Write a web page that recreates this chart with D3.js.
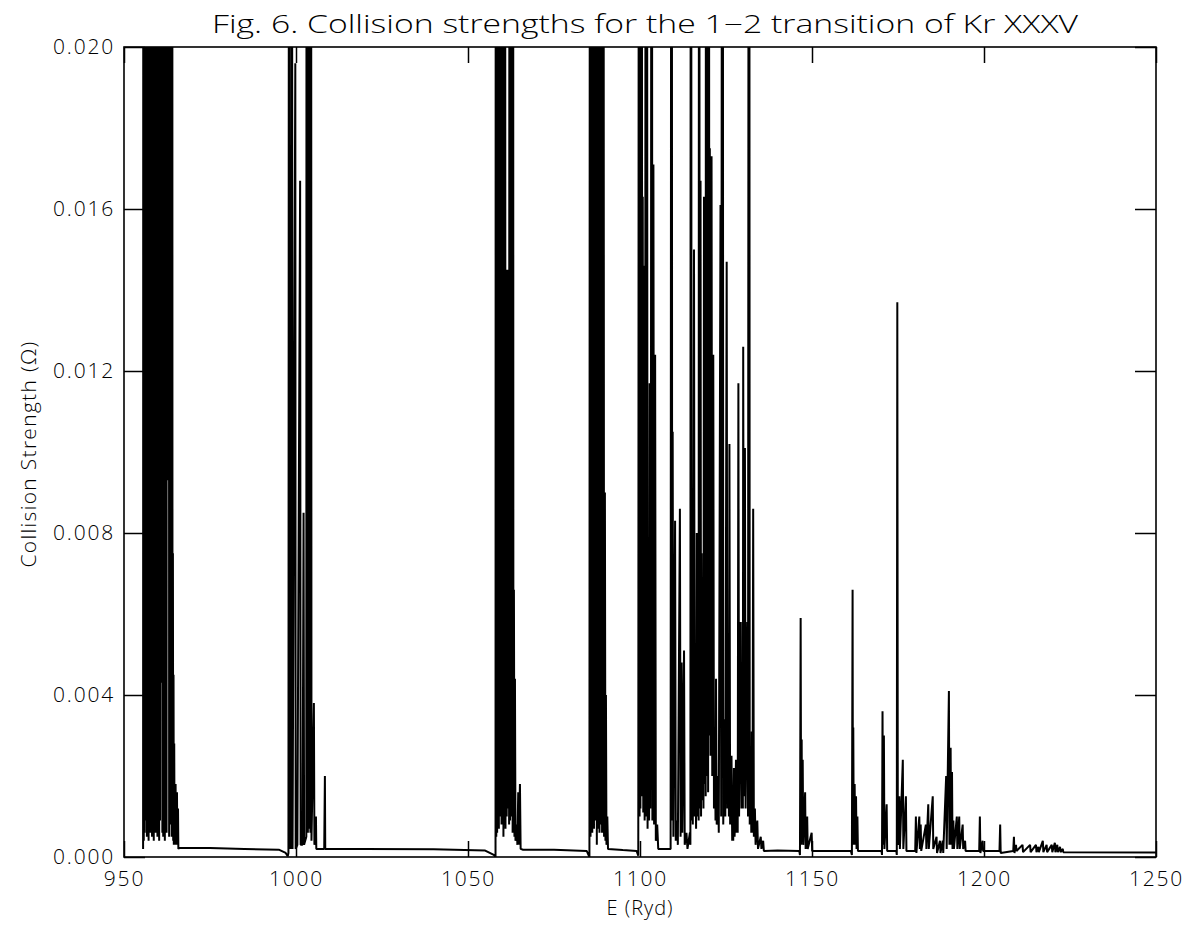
<!DOCTYPE html>
<html><head><meta charset="utf-8">
<script src="https://cdn.jsdelivr.net/npm/d3@7"></script>
<style>
html,body{margin:0;padding:0;background:#fff;}
text{font-family:"Open Sans","DejaVu Sans",sans-serif;font-weight:300;fill:#000;}
</style></head>
<body><svg id="chart" width="1189" height="928"></svg>
<script>
// ---- data ----
const titleText = "Fig. 6. Collision strengths for the 1\u22122 transition of Kr XXXV";
const xLabelText = "E (Ryd)";
const yLabelText = "Collision Strength (\u03A9)";
const xTicks = [950, 1000, 1050, 1100, 1150, 1200, 1250];
const yTicks = [0.000, 0.004, 0.008, 0.012, 0.016, 0.020];
const yTickLabels = ["0.000", "0.004", "0.008", "0.012", "0.016", "0.020"];
const xDomain = [950, 1250];
const yDomain = [0, 0.020];

// [E (Ryd), Omega] — resonance groups and background (values above 0.020 are clipped off the plot)
const group1 = [[955.55,0.0002],[955.65,0.05],[955.75,0.0004],[955.88,0.06],[956.0,0.0006],[956.12,0.05],[956.25,0.0009],[956.37,0.06],[956.45,0.0048],[956.55,0.07],[956.65,0.0005],[956.78,0.05],[956.9,0.0007],[957.02,0.06],[957.15,0.0004],[957.27,0.08],[957.4,0.0008],[957.52,0.05],[957.65,0.0006],[957.77,0.06],[957.9,0.0010],[958.02,0.07],[958.15,0.0005],[958.27,0.05],[958.4,0.0012],[958.52,0.06],[958.65,0.0004],[958.77,0.05],[958.9,0.0008],[959.02,0.06],[959.15,0.0006],[959.27,0.05],[959.45,0.0067],[959.6,0.07],[959.72,0.0005],[959.85,0.05],[959.97,0.0007],[960.1,0.06],[960.22,0.0004],[960.35,0.05],[960.47,0.0009],[960.6,0.06],[960.72,0.0193],[960.8,0.05],[960.92,0.0043],[961.02,0.06],[961.15,0.0006],[961.27,0.04],[961.4,0.0005],[961.5,0.06],[961.62,0.0008],[961.75,0.05],[961.87,0.0004],[962.0,0.06],[962.12,0.0009],[962.25,0.05],[962.37,0.0006],[962.5,0.06],[962.65,0.018],[962.75,0.05],[962.9,0.0093],[963.0,0.05],[963.12,0.0005],[963.25,0.06],[963.37,0.0068],[963.5,0.06],[963.62,0.0008],[963.75,0.04],[963.87,0.0005],[964.0,0.05],[964.1,0.0006],[964.22,0.0075],[964.3,0.0004],[964.4,0.0045],[964.48,0.0003],[964.6,0.0028],[964.7,0.0003],[965.0,0.0018],[965.1,0.0003],[965.4,0.0016],[965.5,0.0003],[965.7,0.0012],[965.8,0.0002]];
const background1 = [[966,0.00022],[975,0.00022],[985,0.0002],[995,0.00018],[997,0.0001],[997.6,0.00002]];
const group2 = [[997.8,0.0001],[998.0,0.04],[998.2,0.0002],[998.5,0.0041],[998.6,0.0002],[998.8,0.035],[999.0,0.0002],[999.8,0.0196],[999.9,0.0002],[1000.4,0.0003],[1001.2,0.0167],[1001.35,0.0003],[1001.9,0.0003],[1002.2,0.0085],[1002.35,0.0003],[1003.0,0.0005],[1003.1,0.05],[1003.2,0.0008],[1003.35,0.06],[1003.45,0.0006],[1003.6,0.05],[1003.7,0.0007],[1003.85,0.06],[1003.95,0.0009],[1004.1,0.05],[1004.2,0.0006],[1004.35,0.04],[1004.5,0.0004],[1005.2,0.0038],[1005.35,0.0003],[1005.8,0.0010],[1005.9,0.0002],[1008.2,0.0002],[1008.4,0.0020],[1008.5,0.0002]];
const background2 = [[1020,0.0002],[1040,0.00019],[1055,0.00016],[1057.5,0.00005],[1058,0.0000]];
const group3 = [[1058.1,0.05],[1058.22,0.0005],[1058.35,0.06],[1058.47,0.0006],[1058.6,0.05],[1058.72,0.0009],[1058.85,0.06],[1058.97,0.0007],[1059.1,0.05],[1059.22,0.0010],[1059.35,0.06],[1059.5,0.0077],[1059.62,0.05],[1059.75,0.0008],[1059.87,0.05],[1060.02,0.011],[1060.15,0.04],[1060.3,0.0005],[1060.5,0.0172],[1060.62,0.0008],[1060.75,0.04],[1060.9,0.0007],[1061.1,0.0145],[1061.25,0.001],[1061.45,0.0145],[1061.6,0.0012],[1061.8,0.0145],[1061.95,0.0008],[1062.1,0.05],[1062.22,0.0009],[1062.35,0.05],[1062.47,0.0012],[1062.6,0.05],[1062.72,0.0010],[1062.85,0.04],[1062.97,0.0006],[1063.1,0.04],[1063.2,0.0006],[1063.35,0.0066],[1063.5,0.0005],[1063.65,0.0044],[1063.8,0.0004],[1064.2,0.0008],[1064.35,0.0003],[1064.6,0.0016],[1064.75,0.0003],[1065.1,0.0018],[1065.3,0.0002]];
const background3 = [[1066,0.00018],[1075,0.00018],[1084.5,0.00015],[1085.3,0.0000]];
const group4 = [[1085.5,0.05],[1085.62,0.0005],[1085.75,0.06],[1085.87,0.0008],[1086.0,0.05],[1086.12,0.0006],[1086.25,0.06],[1086.37,0.0009],[1086.5,0.05],[1086.62,0.0007],[1086.75,0.06],[1086.87,0.0009],[1087.0,0.05],[1087.15,0.0169],[1087.3,0.04],[1087.45,0.0003],[1087.6,0.05],[1087.72,0.0007],[1087.85,0.06],[1087.97,0.0008],[1088.1,0.05],[1088.22,0.0006],[1088.35,0.05],[1088.47,0.0009],[1088.6,0.06],[1088.72,0.0008],[1088.85,0.05],[1088.97,0.0006],[1089.1,0.05],[1089.22,0.0009],[1089.35,0.04],[1089.55,0.0005],[1089.8,0.009],[1089.95,0.0004],[1090.1,0.0040],[1090.25,0.0003],[1090.5,0.0010],[1090.7,0.0002]];
const background4 = [[1095,0.00017],[1099,0.00015],[1099.5,0.00003]];
const group5 = [[1099.75,0.05],[1099.88,0.0010],[1100.0,0.06],[1100.12,0.0012],[1100.25,0.05],[1100.37,0.0015],[1100.5,0.04],[1100.65,0.0015],[1100.8,0.0163],[1100.95,0.0011],[1101.15,0.0146],[1101.35,0.0009],[1101.55,0.0146],[1101.7,0.05],[1101.82,0.0010],[1101.95,0.045],[1102.2,0.0007],[1102.5,0.0060],[1102.65,0.0009],[1102.8,0.0117],[1103.0,0.0012],[1103.2,0.0117],[1103.4,0.05],[1103.6,0.0009],[1103.9,0.0171],[1104.1,0.0008],[1104.4,0.0124],[1104.6,0.0004],[1105.0,0.0008],[1105.3,0.0002],[1108.9,0.0002],[1109.2,0.05],[1109.35,0.0009],[1109.5,0.0105],[1109.7,0.0005],[1110.2,0.0083],[1110.4,0.0004],[1110.8,0.0009],[1111.0,0.0003],[1111.6,0.0086],[1111.8,0.0005],[1112.1,0.0048],[1112.3,0.0006],[1112.8,0.0051],[1113.0,0.0003],[1113.5,0.0006],[1113.8,0.0002],[1114.5,0.0006],[1114.65,0.0003],[1114.8,0.05],[1115.0,0.0009],[1115.2,0.0040],[1115.35,0.0008],[1115.7,0.0150],[1115.9,0.0010],[1116.1,0.0030],[1116.3,0.0007],[1116.5,0.0080],[1116.7,0.0010],[1116.95,0.0035],[1117.05,0.0009],[1117.2,0.05],[1117.35,0.0012],[1117.6,0.0167],[1117.75,0.0010],[1117.9,0.0075],[1118.1,0.0014],[1118.35,0.0040],[1118.45,0.0012],[1118.6,0.0163],[1118.8,0.0018],[1119.0,0.0060],[1119.1,0.0015],[1119.2,0.05],[1119.4,0.0020],[1119.6,0.0198],[1119.8,0.0016],[1120.0,0.05],[1120.15,0.0030],[1120.3,0.0175],[1120.5,0.0025],[1120.8,0.0173],[1121.0,0.0020],[1121.3,0.0124],[1121.5,0.0012],[1121.8,0.0030],[1121.95,0.0009],[1122.1,0.0044],[1122.3,0.0008],[1122.7,0.0020],[1122.9,0.0006],[1123.4,0.0161],[1123.6,0.0010],[1124.0,0.05],[1124.2,0.0008],[1124.6,0.0034],[1124.8,0.0010],[1125.2,0.0147],[1125.4,0.0012],[1125.7,0.0030],[1125.85,0.0010],[1126.0,0.0102],[1126.2,0.0008],[1126.6,0.0025],[1126.8,0.0004],[1127.0,0.0012],[1127.1,0.0004],[1127.3,0.0022],[1127.5,0.0005],[1127.9,0.0024],[1128.1,0.0006],[1128.3,0.0015],[1128.4,0.0006],[1128.6,0.0117],[1128.8,0.0010],[1129.3,0.0058],[1129.5,0.0012],[1129.8,0.0040],[1129.9,0.0012],[1130.0,0.0126],[1130.2,0.0015],[1130.5,0.0101],[1130.7,0.0012],[1131.2,0.0058],[1131.4,0.0010],[1131.7,0.05],[1131.9,0.0008],[1132.2,0.0025],[1132.35,0.0006],[1132.5,0.0031],[1132.7,0.0006],[1132.9,0.0086],[1133.1,0.0005],[1133.4,0.0012],[1133.6,0.0003],[1134.1,0.0009],[1134.3,0.0002],[1135.1,0.0005],[1135.3,0.0002],[1135.8,0.0004],[1136.0,0.00015]];
const group6 = [[1140,0.00016],[1146.3,0.00015],[1146.5,0.00005],[1146.7,0.0059],[1146.85,0.0003],[1147.0,0.0029],[1147.1,0.0004],[1147.3,0.0024],[1147.45,0.0003],[1148.0,0.0016],[1148.15,0.0002],[1148.6,0.0010],[1148.75,0.0002],[1149.9,0.0006],[1150.05,0.00015],[1161.3,0.00015],[1161.6,0.00005],[1161.8,0.0066],[1161.9,0.0003],[1162.0,0.0032],[1162.15,0.0003],[1162.4,0.0018],[1162.55,0.0003],[1162.8,0.0015],[1162.95,0.0002],[1163.2,0.0010],[1163.35,0.00015],[1170.2,0.00015],[1170.35,0.00005],[1170.5,0.0036],[1170.65,0.0003],[1170.9,0.0030],[1171.05,0.0002],[1171.7,0.0013],[1171.85,0.00015],[1174.5,0.00015],[1174.65,0.00005],[1174.8,0.0137],[1174.95,0.0003],[1175.4,0.0015],[1175.55,0.0002],[1176.4,0.0024],[1176.55,0.0002],[1177.3,0.0015],[1177.45,0.00015]];
const group7 = [[1180.0,0.00015],[1180.2,0.0010],[1180.35,0.0001],[1181.2,0.0010],[1181.35,0.0002],[1181.6,0.0008],[1181.75,0.00015],[1183.1,0.0008],[1183.25,0.0002],[1183.8,0.0013],[1183.95,0.0002],[1185.1,0.0015],[1185.25,0.0002],[1186.2,0.0005],[1186.35,0.0001],[1187.2,0.0004],[1187.35,0.0001],[1188.0,0.0004],[1188.15,0.0001],[1189.0,0.0020],[1189.15,0.0002],[1189.8,0.0041],[1189.95,0.0003],[1190.3,0.0027],[1190.45,0.0003],[1190.7,0.0021],[1190.85,0.0002],[1191.1,0.0009],[1191.25,0.0002],[1192.1,0.0010],[1192.25,0.0002],[1192.8,0.0010],[1192.95,0.0002],[1193.8,0.0008],[1193.95,0.0002],[1194.5,0.0004],[1194.65,0.00015]];
const group8 = [[1198.6,0.00015],[1198.8,0.0010],[1198.95,0.0001],[1199.6,0.0004],[1199.75,0.00015],[1204.5,0.00015],[1204.7,0.0008],[1204.85,0.0001],[1208.5,0.00015],[1208.7,0.0005],[1208.85,0.0001],[1209.3,0.0003],[1209.45,0.00015],[1211.2,0.0003],[1211.35,0.00012],[1213.4,0.0003],[1213.55,0.00012],[1215.1,0.0003],[1215.25,0.00012],[1215.8,0.00025],[1215.95,0.00012],[1217.1,0.0004],[1217.25,0.00012],[1218.2,0.0003],[1218.35,0.00012],[1219.7,0.0003],[1219.85,0.00012],[1220.6,0.00035],[1220.75,0.00012],[1221.3,0.0003],[1221.45,0.00012],[1222.1,0.00025],[1222.25,0.00012],[1222.9,0.0002],[1223.05,0.00012],[1250,0.00011]];
const curve = [].concat(group1, background1, group2, background2, group3, background3, group4, background4, group5, group6, group7, group8);

// ---- layout ----
const svg = d3.select("#chart");
const L = 124, R = 1156, T = 47, B = 857;
const x = d3.scaleLinear().domain(xDomain).range([L, R]);
const y = d3.scaleLinear().domain(yDomain).range([B, T]);

svg.append("rect").attr("width",1189).attr("height",928).attr("fill","#fff");

svg.append("defs").append("clipPath").attr("id","plotclip")
  .append("rect").attr("x",L).attr("y",T).attr("width",R-L).attr("height",B-T);

const line = d3.line().x(d=>x(d[0])).y(d=>y(d[1]));
svg.append("path").datum(curve)
  .attr("clip-path","url(#plotclip)")
  .attr("d", line)
  .attr("fill","none").attr("stroke","#000").attr("stroke-width",2)
  .attr("stroke-linejoin","miter").attr("stroke-miterlimit",1);

// axes
const fmtY = (d,i)=>yTickLabels[i];
const gB = svg.append("g").attr("transform",`translate(0,${B})`)
  .call(d3.axisBottom(x).tickValues(xTicks).tickSize(-16).tickPadding(14).tickFormat(d3.format("d")));
const gT = svg.append("g").attr("transform",`translate(0,${T})`)
  .call(d3.axisTop(x).tickValues(xTicks).tickSize(-16).tickFormat(""));
const gL = svg.append("g").attr("transform",`translate(${L},0)`)
  .call(d3.axisLeft(y).tickValues(yTicks).tickSize(-21).tickPadding(9).tickFormat(fmtY));
const gR = svg.append("g").attr("transform",`translate(${R},0)`)
  .call(d3.axisRight(y).tickValues(yTicks).tickSize(-21).tickFormat(""));
[gB,gT,gL,gR].forEach(g=>{
  g.select(".domain").remove();
  g.selectAll(".tick line").attr("stroke","#000").attr("stroke-width",1.5);
  g.selectAll("text").attr("font-family",null).attr("font-size",21)
    .attr("letter-spacing","1.8px").attr("fill","#000");
});

svg.append("rect").attr("x",L).attr("y",T).attr("width",R-L).attr("height",B-T)
  .attr("fill","none").attr("stroke","#000").attr("stroke-width",1.6);

svg.append("text").attr("x",(L+R)/2 + 5).attr("y",33).attr("text-anchor","middle")
  .attr("font-size",25).attr("textLength",866).attr("lengthAdjust","spacingAndGlyphs").text(titleText);
svg.append("text").attr("x",(L+R)/2).attr("y",915).attr("text-anchor","middle")
  .attr("font-size",20).attr("letter-spacing","1px").text(xLabelText);
svg.append("text").attr("transform",`translate(36,${(T+B)/2 + 2}) rotate(-90)`)
  .attr("text-anchor","middle").attr("font-size",21).attr("letter-spacing","1.3px").text(yLabelText);
</script></body></html>
